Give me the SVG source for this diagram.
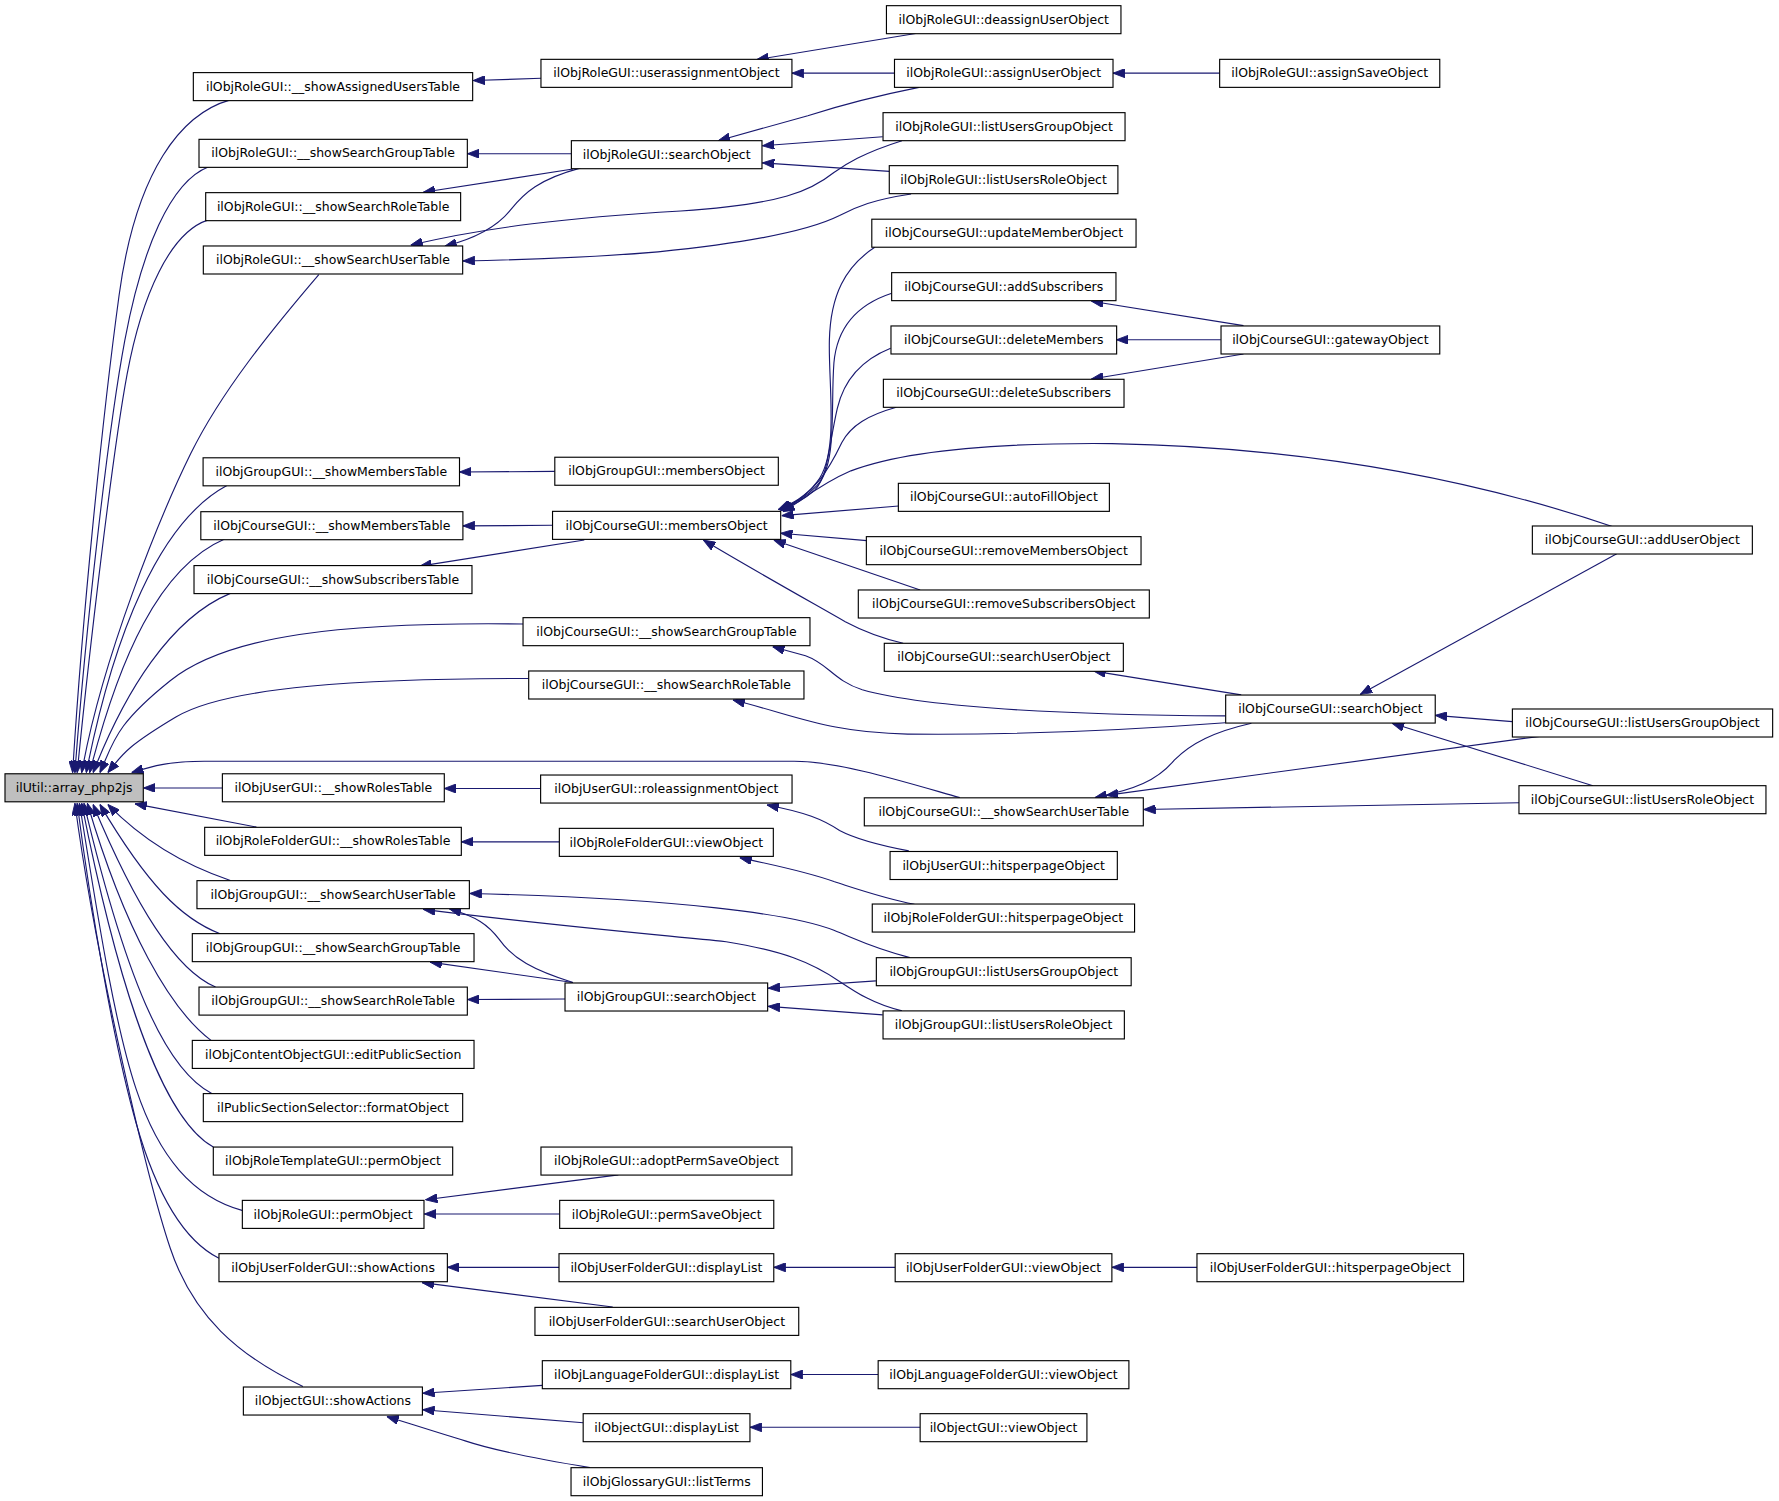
<svg xmlns="http://www.w3.org/2000/svg" width="1779" height="1501" viewBox="0 0 1779 1501">
<style>
.n rect{fill:#fff;stroke:#000;stroke-width:1}
.n text{font-family:"DejaVu Sans","Liberation Sans",sans-serif;font-size:11px;fill:#000;text-anchor:middle}
#n0 rect{fill:#bfbfbf}
.e path{fill:none;stroke:#191970;stroke-width:1;marker-end:url(#a)}
</style>
<defs>
<marker id="a" markerUnits="userSpaceOnUse" markerWidth="10.5" markerHeight="8" viewBox="0 0 10.5 8" refX="10.5" refY="4" orient="auto"><path d="M0,0 L10.5,4 L0,8 z" fill="#191970" stroke="#191970" stroke-width="0.8"/></marker>
</defs>
<rect width="1779" height="1501" fill="#fff"/>
<g transform="scale(1.13457)">
<g class="e" id="edges">
<path d="M203,88 C160,100 120,150 105,260 S72,550 64,681"/>
<path d="M184,147 C150,160 125,220 110,300 S75,560 66,681"/>
<path d="M183,194 C150,205 125,260 112,330 S78,580 68,681"/>
<path d="M281,242 C240,290 195,345 168,400 S90,580 72,681"/>
<path d="M200,428 C140,460 100,560 76,681"/>
<path d="M198,475 C140,500 105,580 79,681"/>
<path d="M203,523 C150,545 110,610 82,681"/>
<path d="M461,550 C300,548 200,560 150,600 S100,655 88,681"/>
<path d="M466,598 C320,598 200,605 155,632 S108,665 95,681"/>
<path d="M846,703 C800,690 740,671 700,671 L180,671 C150,671 135,675 116,681"/>
<path d="M196,694.5 L126.5,694.5"/>
<path d="M226,729 L119,708.5"/>
<path d="M203,776 C170,765 130,745 95,709"/>
<path d="M194,823 C160,810 130,780 88,709"/>
<path d="M190,870 C155,855 120,800 82,709"/>
<path d="M186,917 C150,890 110,820 77,708"/>
<path d="M187,964 C150,945 115,880 74,708"/>
<path d="M188,1011 C150,990 110,900 72,708"/>
<path d="M214,1067 C170,1055 140,1020 120,960 S85,800 70,708"/>
<path d="M193,1109 C165,1095 140,1060 120,990 S80,800 68,708"/>
<path d="M267,1222 C210,1195 170,1160 150,1100 S85,850 66,708"/>
<path d="M477,69 L417,71"/>
<path d="M807,29.5 L667,52.5"/>
<path d="M788.4,64.5 L698,64.5"/>
<path d="M1075,64.5 L981,64.5"/>
<path d="M503.6,135.5 L412,135.5"/>
<path d="M505,149 L373,169.5"/>
<path d="M512,148 C475,158 462,170 450,185 C438,200 420,210 392,217"/>
<path d="M795,124 C760,135 745,145 735,152 C715,168 690,180 600,186 C500,192 430,200 362,216"/>
<path d="M803,171 C770,176 755,182 740,190 C710,205 650,215 580,222 C520,227 460,229 408,230"/>
<path d="M810,77 C770,85 740,93 712,102 C680,111 655,118 633,124"/>
<path d="M778,120.5 L672,128.5"/>
<path d="M784,151 L672,143.5"/>
<path d="M489,415.5 L405,416"/>
<path d="M487,463 L408,463.5"/>
<path d="M515,476 L370,499"/>
<path d="M771,218 C745,235 732,260 731,300 C730,340 740,400 720,425 C710,438 698,444 686,449"/>
<path d="M786,258.5 C760,267 738,285 735,320 C732,360 738,410 720,428 C710,439 698,445 687,449"/>
<path d="M785,307 C765,315 745,330 738,360 C730,395 730,420 718,432 C708,441 698,446 687,449.5"/>
<path d="M790,359 C765,366 750,375 742,390 C730,415 718,435 688,450"/>
<path d="M1421,464 C1350,440 1200,395 980,391 C860,390 790,400 750,415 C720,428 705,443 690,451"/>
<path d="M792,446 L689,454.5"/>
<path d="M764,476.5 L688,470"/>
<path d="M811,520 L682,476"/>
<path d="M796,567 C775,562 760,556 745,548 C710,528 660,500 620,476"/>
<path d="M1096,287 L962,265.5"/>
<path d="M1076,299.5 L984,299.5"/>
<path d="M1096,312 L962,334"/>
<path d="M1094,612.5 L964,591.5"/>
<path d="M1080,631 C950,630 820,625 760,608 C735,600 730,585 710,578 L681,570"/>
<path d="M1080,637 C1000,643 900,648 800,647 C730,646 700,630 646,617"/>
<path d="M1425,488 L1199,612"/>
<path d="M1333,636 L1265,630.5"/>
<path d="M1404,692.5 L1227,637.5"/>
<path d="M1103,637.5 C1070,645 1050,655 1035,670 C1020,688 1000,696 965,703"/>
<path d="M1357,649 L975,701"/>
<path d="M1339,707.5 L1008,713.5"/>
<path d="M476.5,695 L391.5,695"/>
<path d="M801,750 C775,745 755,740 740,732 C725,722 710,716 676,709.5"/>
<path d="M493,742 L406.6,742"/>
<path d="M806,797 C780,792 760,785 735,777 C710,768 680,762 652,756"/>
<path d="M802,844 C770,836 755,828 735,820 C700,806 600,792 414,787.5"/>
<path d="M795,891 C770,885 755,875 740,865 C715,848 690,838 640,830 C560,822 480,815 373,801.5"/>
<path d="M505,866 C470,855 452,845 440,828 C430,815 420,808 396,801"/>
<path d="M505,866 L379,848"/>
<path d="M498,880.5 L412,881"/>
<path d="M772,864.5 L677,871"/>
<path d="M778,894.5 L677,887"/>
<path d="M545,1035.5 L375,1057.5"/>
<path d="M493.3,1070 L374,1070"/>
<path d="M492.7,1117 L394.3,1117"/>
<path d="M540,1152 L372,1130.5"/>
<path d="M789,1117 L682,1117"/>
<path d="M1055,1117 L980,1117"/>
<path d="M478,1221 L372.5,1228"/>
<path d="M514,1254 L372.5,1242.5"/>
<path d="M520,1293.5 C480,1287 440,1280 410,1270 C390,1264 365,1256 341,1248.5"/>
<path d="M774,1211.5 L697,1211.5"/>
<path d="M811,1258 L661,1258"/>
</g>
<g class="n" id="n0"><rect x="4.4" y="682" width="121.9" height="24.7"/><text x="65.35" y="698">ilUtil::array_php2js</text></g>
<g class="n" id="n1"><rect x="170.4" y="64" width="246.2" height="24.7"/><text x="293.5" y="80">ilObjRoleGUI::__showAssignedUsersTable</text></g>
<g class="n" id="n2"><rect x="175.4" y="122.8" width="236.5" height="24.7"/><text x="293.65" y="138.8">ilObjRoleGUI::__showSearchGroupTable</text></g>
<g class="n" id="n3"><rect x="181.3" y="169.8" width="224.7" height="24.7"/><text x="293.65" y="185.8">ilObjRoleGUI::__showSearchRoleTable</text></g>
<g class="n" id="n4"><rect x="179.2" y="216.8" width="228.6" height="24.7"/><text x="293.5" y="232.8">ilObjRoleGUI::__showSearchUserTable</text></g>
<g class="n" id="n5"><rect x="179" y="403.5" width="226" height="24.7"/><text x="292" y="419.5">ilObjGroupGUI::__showMembersTable</text></g>
<g class="n" id="n6"><rect x="177" y="451" width="231" height="24.7"/><text x="292.5" y="467">ilObjCourseGUI::__showMembersTable</text></g>
<g class="n" id="n7"><rect x="171" y="498.5" width="245" height="24.7"/><text x="293.5" y="514.5">ilObjCourseGUI::__showSubscribersTable</text></g>
<g class="n" id="n8"><rect x="196" y="682" width="195.6" height="24.7"/><text x="293.8" y="698">ilObjUserGUI::__showRolesTable</text></g>
<g class="n" id="n9"><rect x="180.4" y="729.2" width="226.2" height="24.7"/><text x="293.5" y="745.2">ilObjRoleFolderGUI::__showRolesTable</text></g>
<g class="n" id="n10"><rect x="173.6" y="776.2" width="240.1" height="24.7"/><text x="293.65" y="792.2">ilObjGroupGUI::__showSearchUserTable</text></g>
<g class="n" id="n11"><rect x="169.5" y="822.9" width="248.3" height="24.7"/><text x="293.65" y="838.9">ilObjGroupGUI::__showSearchGroupTable</text></g>
<g class="n" id="n12"><rect x="175.4" y="870" width="236.5" height="24.7"/><text x="293.65" y="886">ilObjGroupGUI::__showSearchRoleTable</text></g>
<g class="n" id="n13"><rect x="169.5" y="917" width="248.3" height="24.7"/><text x="293.65" y="933">ilObjContentObjectGUI::editPublicSection</text></g>
<g class="n" id="n14"><rect x="179.2" y="963.9" width="228.6" height="24.7"/><text x="293.5" y="979.9">ilPublicSectionSelector::formatObject</text></g>
<g class="n" id="n15"><rect x="188" y="1011" width="211" height="24.7"/><text x="293.5" y="1027">ilObjRoleTemplateGUI::permObject</text></g>
<g class="n" id="n16"><rect x="213.6" y="1058" width="160.1" height="24.7"/><text x="293.65" y="1074">ilObjRoleGUI::permObject</text></g>
<g class="n" id="n17"><rect x="193" y="1105" width="201.3" height="24.7"/><text x="293.65" y="1121">ilObjUserFolderGUI::showActions</text></g>
<g class="n" id="n18"><rect x="214.5" y="1222.5" width="157.8" height="24.7"/><text x="293.4" y="1238.5">ilObjectGUI::showActions</text></g>
<g class="n" id="n19"><rect x="476.8" y="52.3" width="221.2" height="24.7"/><text x="587.4" y="68.3">ilObjRoleGUI::userassignmentObject</text></g>
<g class="n" id="n20"><rect x="503.6" y="124" width="168" height="24.7"/><text x="587.6" y="140">ilObjRoleGUI::searchObject</text></g>
<g class="n" id="n21"><rect x="489" y="403" width="197" height="24.7"/><text x="587.5" y="419">ilObjGroupGUI::membersObject</text></g>
<g class="n" id="n22"><rect x="487" y="450.7" width="201.1" height="24.7"/><text x="587.55" y="466.7">ilObjCourseGUI::membersObject</text></g>
<g class="n" id="n23"><rect x="461" y="544.4" width="252.9" height="24.7"/><text x="587.45" y="560.4">ilObjCourseGUI::__showSearchGroupTable</text></g>
<g class="n" id="n24"><rect x="466" y="591.4" width="242.6" height="24.7"/><text x="587.3" y="607.4">ilObjCourseGUI::__showSearchRoleTable</text></g>
<g class="n" id="n25"><rect x="761.8" y="703.2" width="245.9" height="24.7"/><text x="884.75" y="719.2">ilObjCourseGUI::__showSearchUserTable</text></g>
<g class="n" id="n26"><rect x="476.5" y="683.1" width="221.6" height="24.7"/><text x="587.3" y="699.1">ilObjUserGUI::roleassignmentObject</text></g>
<g class="n" id="n27"><rect x="493" y="730.1" width="188.6" height="24.7"/><text x="587.3" y="746.1">ilObjRoleFolderGUI::viewObject</text></g>
<g class="n" id="n28"><rect x="498" y="866.4" width="178.6" height="24.7"/><text x="587.3" y="882.4">ilObjGroupGUI::searchObject</text></g>
<g class="n" id="n29"><rect x="476.8" y="1011" width="221.2" height="24.7"/><text x="587.4" y="1027">ilObjRoleGUI::adoptPermSaveObject</text></g>
<g class="n" id="n30"><rect x="493.3" y="1058" width="188.7" height="24.7"/><text x="587.65" y="1074">ilObjRoleGUI::permSaveObject</text></g>
<g class="n" id="n31"><rect x="492.7" y="1105" width="189.3" height="24.7"/><text x="587.35" y="1121">ilObjUserFolderGUI::displayList</text></g>
<g class="n" id="n32"><rect x="471.5" y="1152.3" width="232.5" height="24.7"/><text x="587.75" y="1168.3">ilObjUserFolderGUI::searchUserObject</text></g>
<g class="n" id="n33"><rect x="478" y="1199.3" width="219" height="24.7"/><text x="587.5" y="1215.3">ilObjLanguageFolderGUI::displayList</text></g>
<g class="n" id="n34"><rect x="514" y="1246" width="147" height="24.7"/><text x="587.5" y="1262">ilObjectGUI::displayList</text></g>
<g class="n" id="n35"><rect x="503.3" y="1293.6" width="168.7" height="24.7"/><text x="587.65" y="1309.6">ilObjGlossaryGUI::listTerms</text></g>
<g class="n" id="n36"><rect x="781.3" y="5" width="206.7" height="24.7"/><text x="884.65" y="21">ilObjRoleGUI::deassignUserObject</text></g>
<g class="n" id="n37"><rect x="788.4" y="52.3" width="192.6" height="24.7"/><text x="884.7" y="68.3">ilObjRoleGUI::assignUserObject</text></g>
<g class="n" id="n38"><rect x="778.3" y="99.3" width="213.3" height="24.7"/><text x="884.95" y="115.3">ilObjRoleGUI::listUsersGroupObject</text></g>
<g class="n" id="n39"><rect x="783.8" y="146" width="201.5" height="24.7"/><text x="884.55" y="162">ilObjRoleGUI::listUsersRoleObject</text></g>
<g class="n" id="n40"><rect x="768.4" y="193.2" width="232.9" height="24.7"/><text x="884.85" y="209.2">ilObjCourseGUI::updateMemberObject</text></g>
<g class="n" id="n41"><rect x="785.9" y="240.3" width="197.7" height="24.7"/><text x="884.75" y="256.3">ilObjCourseGUI::addSubscribers</text></g>
<g class="n" id="n42"><rect x="785.3" y="287.3" width="198.9" height="24.7"/><text x="884.75" y="303.3">ilObjCourseGUI::deleteMembers</text></g>
<g class="n" id="n43"><rect x="778.6" y="334.3" width="212.1" height="24.7"/><text x="884.65" y="350.3">ilObjCourseGUI::deleteSubscribers</text></g>
<g class="n" id="n44"><rect x="791.8" y="426" width="186" height="24.7"/><text x="884.8" y="442">ilObjCourseGUI::autoFillObject</text></g>
<g class="n" id="n45"><rect x="763.6" y="473" width="242.1" height="24.7"/><text x="884.65" y="489">ilObjCourseGUI::removeMembersObject</text></g>
<g class="n" id="n46"><rect x="756.5" y="520" width="256.5" height="24.7"/><text x="884.75" y="536">ilObjCourseGUI::removeSubscribersObject</text></g>
<g class="n" id="n47"><rect x="779.4" y="567" width="210.7" height="24.7"/><text x="884.75" y="583">ilObjCourseGUI::searchUserObject</text></g>
<g class="n" id="n48"><rect x="784.5" y="750.5" width="200.3" height="24.7"/><text x="884.65" y="766.5">ilObjUserGUI::hitsperpageObject</text></g>
<g class="n" id="n49"><rect x="768.8" y="796.8" width="231.2" height="24.7"/><text x="884.4" y="812.8">ilObjRoleFolderGUI::hitsperpageObject</text></g>
<g class="n" id="n50"><rect x="772.4" y="844.1" width="224.6" height="24.7"/><text x="884.7" y="860.1">ilObjGroupGUI::listUsersGroupObject</text></g>
<g class="n" id="n51"><rect x="778.3" y="891" width="212.7" height="24.7"/><text x="884.65" y="907">ilObjGroupGUI::listUsersRoleObject</text></g>
<g class="n" id="n52"><rect x="789" y="1105" width="191" height="24.7"/><text x="884.5" y="1121">ilObjUserFolderGUI::viewObject</text></g>
<g class="n" id="n53"><rect x="774" y="1199.3" width="221" height="24.7"/><text x="884.5" y="1215.3">ilObjLanguageFolderGUI::viewObject</text></g>
<g class="n" id="n54"><rect x="811" y="1246" width="147" height="24.7"/><text x="884.5" y="1262">ilObjectGUI::viewObject</text></g>
<g class="n" id="n55"><rect x="1075" y="52.3" width="194" height="24.7"/><text x="1172" y="68.3">ilObjRoleGUI::assignSaveObject</text></g>
<g class="n" id="n56"><rect x="1076.2" y="287.3" width="192.8" height="24.7"/><text x="1172.6" y="303.3">ilObjCourseGUI::gatewayObject</text></g>
<g class="n" id="n57"><rect x="1080.3" y="612.6" width="184.7" height="24.7"/><text x="1172.65" y="628.6">ilObjCourseGUI::searchObject</text></g>
<g class="n" id="n58"><rect x="1055" y="1105" width="235" height="24.7"/><text x="1172.5" y="1121">ilObjUserFolderGUI::hitsperpageObject</text></g>
<g class="n" id="n59"><rect x="1350.6" y="463.6" width="193.9" height="24.7"/><text x="1447.55" y="479.6">ilObjCourseGUI::addUserObject</text></g>
<g class="n" id="n60"><rect x="1333" y="624.9" width="229.4" height="24.7"/><text x="1447.7" y="640.9">ilObjCourseGUI::listUsersGroupObject</text></g>
<g class="n" id="n61"><rect x="1338.8" y="692.5" width="217.7" height="24.7"/><text x="1447.65" y="708.5">ilObjCourseGUI::listUsersRoleObject</text></g>
</g>
</svg>
